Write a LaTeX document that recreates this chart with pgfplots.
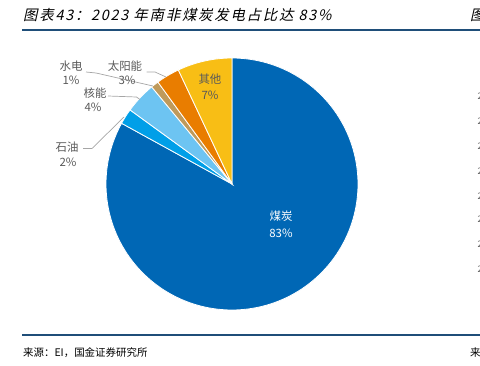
\documentclass[border=0pt]{standalone}
\usepackage{pgfplots}
\pgfplotsset{compat=1.18}
\usepackage{fontspec}
\setmainfont{Noto Sans CJK SC}
\newfontfamily\titlefont[FakeSlant=0.22,LetterSpace=12]{Noto Sans CJK SC}
\definecolor{cCoal}{RGB}{0,103,181}
\definecolor{cOil}{RGB}{0,159,232}
\definecolor{cNuc}{RGB}{109,196,242}
\definecolor{cHydro}{RGB}{191,154,91}
\definecolor{cSolar}{RGB}{233,125,0}
\definecolor{cOther}{RGB}{248,190,21}
\definecolor{cRule}{RGB}{31,78,121}
\definecolor{cLbl}{RGB}{89,89,89}
\definecolor{cLead}{RGB}{166,166,166}
\begin{document}
\begin{tikzpicture}
\useasboundingbox (0,0) rectangle (480bp,366bp);
\clip (0,0) rectangle (480bp,366bp);
\begin{axis}[at={(0,0)}, anchor=south west, width=480bp, height=366bp, scale only axis,
  xmin=0, xmax=480, ymin=0, ymax=366, y dir=reverse, hide axis, clip=false]
% shares (percent), clockwise from 12 o'clock: coal 83, oil 2, nuclear 4, hydro 1, solar 3, other 7
\addplot[fill=cCoal, draw=white, line width=0.8bp, domain=0:83*3.6, samples=150] ({232+126*sin(x)},{184-126*cos(x)}) -- (232,184) -- cycle;
\addplot[fill=cOil, draw=white, line width=0.8bp, domain=83*3.6:85*3.6, samples=10] ({232+126*sin(x)},{184-126*cos(x)}) -- (232,184) -- cycle;
\addplot[fill=cNuc, draw=white, line width=0.8bp, domain=85*3.6:89*3.6, samples=15] ({232+126*sin(x)},{184-126*cos(x)}) -- (232,184) -- cycle;
\addplot[fill=cHydro, draw=white, line width=0.8bp, domain=89*3.6:90*3.6, samples=6] ({232+126*sin(x)},{184-126*cos(x)}) -- (232,184) -- cycle;
\addplot[fill=cSolar, draw=white, line width=0.8bp, domain=90*3.6:93*3.6, samples=12] ({232+126*sin(x)},{184-126*cos(x)}) -- (232,184) -- cycle;
\addplot[fill=cOther, draw=white, line width=0.8bp, domain=93*3.6:100*3.6, samples=25] ({232+126*sin(x)},{184-126*cos(x)}) -- (232,184) -- cycle;
% leader lines
\draw[cLead, line width=0.7bp] (86,72) -- (96,73) -- (153,86);
\draw[cLead, line width=0.7bp] (146.5,72) -- (155,72) -- (166,77);
\draw[cLead, line width=0.7bp] (108,96) -- (136.5,97) -- (140,99.5);
\draw[cLead, line width=0.7bp] (83,148.5) -- (92,148.5) -- (124,117);
% labels
\begin{scope}[every node/.style={font=\fontsize{11.5}{12}\selectfont, text=cLbl, inner sep=0pt}]
\node at (71,66) {水电}; \node at (71,80.5) {1\%};
\node at (125,66) {太阳能}; \node at (127,80.5) {3\%};
\node at (95,93) {核能}; \node at (93,107.5) {4\%};
\node at (67,147.5) {石油}; \node at (68,162) {2\%};
\node at (210,79.5) {其他}; \node at (210,95.5) {7\%};
\node[text=white] at (281,216) {煤炭}; \node[text=white] at (281,233) {83\%};
\end{scope}
% title, rules, source
\node[anchor=west, inner sep=0pt, font=\titlefont\fontsize{14.5}{15}\selectfont, text=black] at (23,15) {图表43：2023 年南非煤炭发电占比达 83\%};
\node[anchor=west, inner sep=0pt, font=\titlefont\fontsize{14.5}{15}\selectfont, text=black] at (470,15) {图};
\draw[cRule, line width=1.3bp] (22,30) -- (480,30);
\draw[cRule, line width=1.3bp] (22,335) -- (480,335);
\node[anchor=west, inner sep=0pt, font=\fontsize{10.5}{12}\selectfont, text=black] at (23,353) {来源：EI，国金证券研究所};
\node[anchor=west, inner sep=0pt, font=\fontsize{10.5}{12}\selectfont, text=black] at (470,353) {来};
\node[anchor=west, inner sep=0pt, font=\fontsize{9}{10}\selectfont, text=cLbl] at (477.5,96) {2};
\node[anchor=west, inner sep=0pt, font=\fontsize{9}{10}\selectfont, text=cLbl] at (477.5,121) {2};
\node[anchor=west, inner sep=0pt, font=\fontsize{9}{10}\selectfont, text=cLbl] at (477.5,146) {2};
\node[anchor=west, inner sep=0pt, font=\fontsize{9}{10}\selectfont, text=cLbl] at (477.5,171) {2};
\node[anchor=west, inner sep=0pt, font=\fontsize{9}{10}\selectfont, text=cLbl] at (477.5,196) {2};
\node[anchor=west, inner sep=0pt, font=\fontsize{9}{10}\selectfont, text=cLbl] at (477.5,219) {2};
\node[anchor=west, inner sep=0pt, font=\fontsize{9}{10}\selectfont, text=cLbl] at (477.5,244) {2};
\node[anchor=west, inner sep=0pt, font=\fontsize{9}{10}\selectfont, text=cLbl] at (477.5,269) {2};
\end{axis}
\end{tikzpicture}
\end{document}
